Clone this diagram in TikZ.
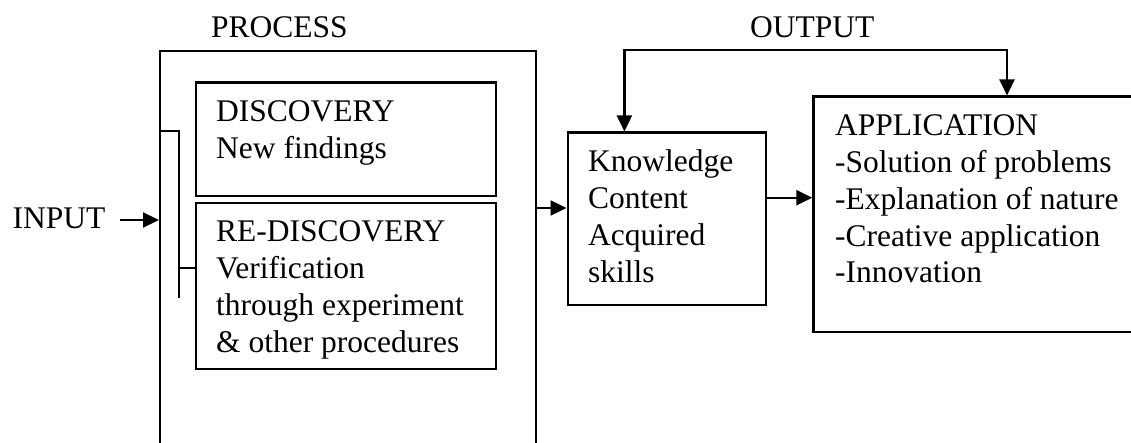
\documentclass[tikz,border=0pt]{standalone}
\usepackage{fontspec}
\setmainfont{Liberation Serif}
\usetikzlibrary{arrows.meta}
\begin{document}
\begin{tikzpicture}[x=1pt,y=-1pt,
  box/.style={draw,line width=2.2pt,rectangle,inner sep=0pt,anchor=north west},
  txt/.style={anchor=base west,inner sep=0pt,font=\fontsize{31.5}{36.8}\selectfont},
  ln/.style={line width=2.2pt},
  arr/.style={line width=2.2pt,-{Triangle[length=16pt,width=15pt]}},
  darr/.style={line width=2.2pt,{Triangle[length=16pt,width=15pt]}-{Triangle[length=16pt,width=15pt]}}]
\useasboundingbox (0,0) rectangle (1131,443);
% boxes
\node[box,minimum width=376pt,minimum height=420pt] (proc) at (159,50) {};
\node[box,minimum width=300.5pt,minimum height=113.5pt] (disc) at (194.5,81.5) {};
\node[box,minimum width=300.5pt,minimum height=166pt] (redisc) at (194.5,202) {};
\node[box,minimum width=198pt,minimum height=172.5pt] (know) at (566.5,131.5) {};
\node[box,minimum width=340pt,minimum height=235.5pt] (app) at (812.3,95.5) {};
% labels
\node[txt] (ptitle) at (211,37.3) {PROCESS};
\node[txt] (otitle) at (750,37.3) {OUTPUT};
\node[txt] (input) at (12.5,228.3) {INPUT};
\foreach \t [count=\i] in {DISCOVERY,New findings}
  \node[txt] (disc\i) at (216,{121.7+36.8*(\i-1)}) {\t};
\foreach \t [count=\i] in {RE-DISCOVERY,Verification,through experiment,\& other procedures}
  \node[txt] (redisc\i) at (216,{241.7+36.8*(\i-1)}) {\t};
\foreach \t [count=\i] in {Knowledge,Content,Acquired,skills}
  \node[txt] (know\i) at (588,{171.7+36.8*(\i-1)}) {\t};
\foreach \t [count=\i] in {APPLICATION,-Solution of problems,-Explanation of nature,-Creative application,-Innovation}
  \node[txt] (app\i) at (835,{135.7+36.8*(\i-1)}) {\t};
% connectors
\coordinate (inA) at (119.6,220);
\draw[arr] (inA) -- (inA -| proc.west);
\coordinate (pk) at (535,208);
\draw[arr] (pk) -- (pk -| know.west);
\coordinate (ka) at (764.5,197.7);
\draw[arr] (ka) -- (ka -| app.west);
\coordinate (fbL) at (624.4,50);
\coordinate (fbR) at (1007,50);
\draw[darr] (fbL |- know.north) -- (fbL) -- (fbR) -- (fbR |- app.north);
% bracket
\coordinate (brT) at (179,131);
\coordinate (brB) at (179,298);
\coordinate (brM) at (179,268);
\draw[ln] (brT -| proc.west) -- (brT) -- (brB);
\draw[ln] (brM) -- (brM -| redisc.west);
\end{tikzpicture}
\end{document}
